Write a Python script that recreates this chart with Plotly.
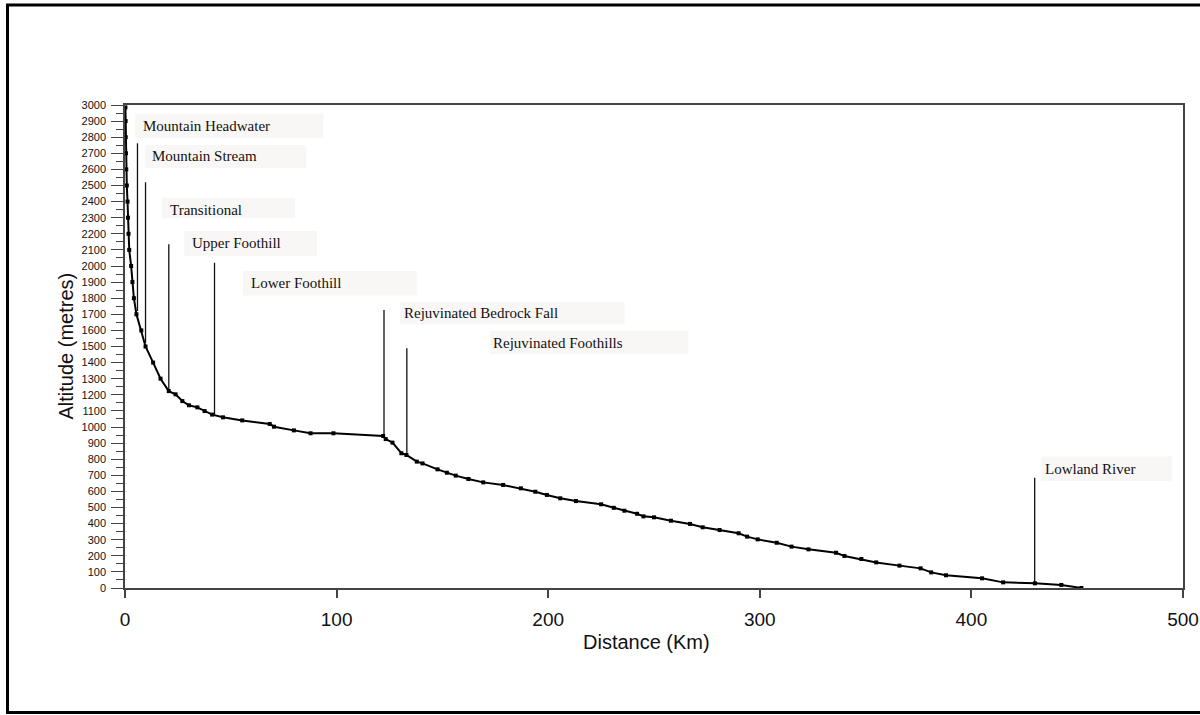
import plotly.graph_objects as go

# ---------------- data ----------------
dist_km = [0.2, 0.3, 0.35, 0.45, 0.6, 0.85, 1.2, 1.4, 1.66, 2.0, 2.9, 3.5, 4.2, 5.4, 7.7, 9.7,
           13.3, 16.8, 20.7, 23.9, 27.1, 30.2, 34.2, 37.6, 41.2, 46.3, 55.4, 68.4, 70.4, 79.8,
           87.7, 98.5, 122.0, 123.2, 126.4, 130.6, 133.0, 137.9, 140.6, 147.7, 152.1, 156.3,
           162.3, 169.3, 178.7, 187.1, 193.9, 199.4, 205.7, 213.1, 225.0, 231.0, 236.0, 242.0,
           245.0, 250.0, 258.0, 267.0, 273.0, 281.0, 290.0, 294.0, 299.0, 308.0, 315.0, 323.0,
           336.0, 340.0, 348.0, 355.0, 366.0, 376.0, 381.0, 388.0, 405.0, 415.0, 430.0, 442.5,
           452.0]
altitude_m = [2985, 2900, 2800, 2700, 2600, 2500, 2400, 2300, 2200, 2100, 2000, 1900, 1800, 1700,
              1600, 1500, 1400, 1300, 1223, 1203, 1161, 1135, 1122, 1099, 1077, 1060, 1041, 1019,
              1002, 979, 961, 961, 944, 925, 903, 837, 826, 785, 774, 737, 716, 698, 677, 656,
              640, 619, 598, 578, 557, 540, 520, 498, 480, 461, 445, 439, 418, 398, 377, 360,
              340, 319, 302, 281, 257, 240, 219, 199, 180, 159, 139, 122, 97, 79, 60, 35, 29,
              19, 0]

zone_names = ["Mountain Headwater", "Mountain Stream", "Transitional", "Upper Foothill",
              "Lower Foothill", "Rejuvinated Bedrock Fall", "Rejuvinated Foothills",
              "Lowland River"]
# boundary marker lines: x (km), top (m), bottom (m)
marker_x = [5.9, 9.7, 20.7, 42.3, 122.4, 133.2, 429.9]
marker_top = [2762, 2520, 2135, 2020, 1727, 1489, 685]
marker_bottom = [1720, 1522, 1225, 1077, 940, 826, 29]

x_ticks = [0, 100, 200, 300, 400, 500]
y_ticks = list(range(0, 3001, 100))

# ---------------- layout helpers (positions/styles) ----------------
# label boxes: (x0, x1, y0, y1) in data units, text anchor (x, y)
label_boxes = [
    (4.8, 93.7, 2793, 2945, 7.7, 2871),
    (9.6, 85.7, 2607, 2752, 12.0, 2683),
    (17.4, 80.4, 2296, 2424, 20.2, 2348),
    (28.0, 90.7, 2062, 2217, 30.6, 2145),
    (55.8, 138.2, 1816, 1969, 58.5, 1893),
    (130.1, 236.1, 1638, 1778, 131.0, 1706),
    (172.6, 266.3, 1453, 1598, 173.2, 1524),
    (433.0, 494.8, 665, 816, 433.8, 737),
]

W, H = 1200, 715
ML, MR, MT, MB = 125, 17, 105, 127
PW, PH = W - ML - MR, H - MT - MB


def px_to_paper_x(px):
    return (px - ML) / PW


def px_to_paper_y(py):
    return (H - MB - py) / PH


fig = go.Figure()

# boundary lines
for x, yt, yb in zip(marker_x, marker_top, marker_bottom):
    fig.add_trace(go.Scatter(x=[x, x], y=[yb, yt], mode="lines",
                             line=dict(color="#111", width=1.3),
                             hoverinfo="skip", showlegend=False))

# profile
fig.add_trace(go.Scatter(x=dist_km, y=altitude_m, mode="lines+markers",
                         line=dict(color="#000", width=2),
                         marker=dict(symbol="square", size=4, color="#000"),
                         showlegend=False))

shapes = []
annotations = []
for name, (x0, x1, y0, y1, tx, ty) in zip(zone_names, label_boxes):
    shapes.append(dict(type="rect", xref="x", yref="y", x0=x0, x1=x1, y0=y0, y1=y1,
                       fillcolor="#f9f7f5", line=dict(width=0), layer="below"))
    annotations.append(dict(x=tx, y=ty, xref="x", yref="y", text=name, showarrow=False,
                            xanchor="left", yanchor="middle",
                            font=dict(family="Liberation Serif", size=15, color="#111")))

# outer frame
shapes.append(dict(type="rect", xref="paper", yref="paper",
                   x0=px_to_paper_x(7.5), x1=px_to_paper_x(1210),
                   y0=px_to_paper_y(712.5), y1=px_to_paper_y(5),
                   line=dict(color="#000", width=3), fillcolor="rgba(0,0,0,0)"))

annotations.append(dict(x=px_to_paper_x(65), y=0.5, xref="paper", yref="paper",
                        text="Altitude (metres)", textangle=-90, showarrow=False,
                        xanchor="center", yanchor="middle",
                        font=dict(family="Liberation Sans", size=20, color="#111")))
annotations.append(dict(x=px_to_paper_x(646), y=px_to_paper_y(642), xref="paper", yref="paper",
                        text="Distance (Km)", showarrow=False,
                        xanchor="center", yanchor="middle",
                        font=dict(family="Liberation Sans", size=20, color="#111")))

fig.update_layout(
    width=W, height=H, autosize=False,
    margin=dict(l=ML, r=MR, t=MT, b=MB, pad=0, autoexpand=False),
    paper_bgcolor="white", plot_bgcolor="white",
    shapes=shapes, annotations=annotations,
    xaxis=dict(range=[0, 500], tickvals=x_ticks, ticks="outside", ticklen=8, tickwidth=1.5,
               tickcolor="#444", showline=True, linecolor="#444", linewidth=1.5, mirror=True,
               showgrid=False, zeroline=False, automargin=False,
               tickfont=dict(family="Liberation Sans", size=19, color="#111"),
               ticklabelstandoff=5),
    yaxis=dict(range=[0, 3000], tickvals=y_ticks, ticks="outside", ticklen=12, tickwidth=1.3,
               tickcolor="#444", showline=True, linecolor="#444", linewidth=1.5, mirror=True,
               showgrid=False, zeroline=False, automargin=False,
               minor=dict(dtick=50, tick0=0, ticks="outside", ticklen=7, tickwidth=1.3,
                          tickcolor="#444", showgrid=False),
               tickfont=dict(family="Liberation Sans", size=11, color="#111"),
               ticklabelstandoff=3),
)

fig.write_html("out.html")
